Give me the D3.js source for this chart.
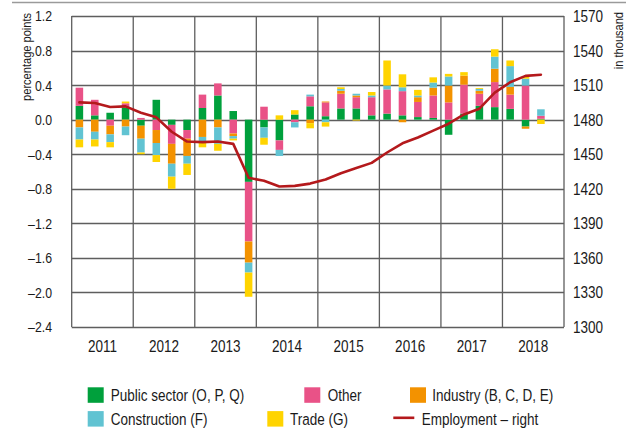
<!DOCTYPE html>
<html>
<head>
<meta charset="utf-8">
<script src="https://cdn.jsdelivr.net/npm/d3@7"></script>
<style>
  html, body { margin: 0; padding: 0; background: #fff; }
  svg { display: block; }
  text { font-family: "Liberation Sans", Arial, sans-serif; fill: #1a1a1a; }
</style>
</head>
<body>
<svg id="chart" width="638" height="432"></svg>
<script>
// ---- Data ----
const years = ["2011", "2012", "2013", "2014", "2015", "2016", "2017", "2018"];
const quarters = [
  "2011Q1","2011Q2","2011Q3","2011Q4",
  "2012Q1","2012Q2","2012Q3","2012Q4",
  "2013Q1","2013Q2","2013Q3","2013Q4",
  "2014Q1","2014Q2","2014Q3","2014Q4",
  "2015Q1","2015Q2","2015Q3","2015Q4",
  "2016Q1","2016Q2","2016Q3","2016Q4",
  "2017Q1","2017Q2","2017Q3","2017Q4",
  "2018Q1","2018Q2","2018Q3"
];
const publicSector = [0.16, 0.05, 0.08, 0.14, -0.07, 0.23, -0.06, -0.12, 0.135, 0.28, 0.10, -0.72,
  -0.09, -0.24, 0.06, 0.155, 0.04, 0.13, 0.13, 0.05, 0.07, 0.05, 0.03, 0.02,
  -0.175, 0.07, 0.16, 0.145, 0.125, -0.08, 0.01];
const other = [0.21, 0.18, -0.07, 0.05, 0.02, -0.12, -0.22, -0.10, 0.155, 0.14, -0.16, -0.69,
  0.15, -0.11, -0.03, 0.115, 0.16, 0.17, 0.13, 0.21, 0.28, 0.28, 0.175, 0.26,
  0.20, 0.335, 0.14, 0.29, 0.165, 0.395, 0.035];
const industry = [-0.09, -0.14, -0.10, -0.08, -0.15, -0.15, -0.23, -0.20, -0.20, -0.09, -0.03, -0.245,
  0, 0, 0, -0.04, 0.01, 0.035, 0.02, 0, 0, -0.03, 0.055, 0.09,
  0.195, 0.105, 0.035, 0.155, 0.09, -0.025, 0];
const construction = [-0.14, -0.09, -0.09, -0.10, -0.16, -0.14, -0.15, -0.09, -0.07, -0.19, -0.03, -0.115,
  -0.12, -0.07, -0.06, 0.02, -0.03, 0.02, 0.02, 0.02, 0.045, 0.045, 0.02, 0.06,
  0.105, 0, 0.02, 0.14, 0.24, 0.08, 0.075];
const trade = [-0.09, -0.08, -0.06, 0.02, -0.02, -0.08, -0.14, -0.13, -0.05, -0.08, -0.02, -0.28,
  -0.08, 0.05, 0.05, -0.06, -0.05, 0.02, -0.01, 0.04, 0.29, 0.15, 0.065, 0.06,
  0.03, 0.04, 0.01, 0.085, 0.065, 0.025, -0.05];
const employment = [1495, 1494.5, 1491, 1491.5, 1486, 1482, 1469.5, 1461, 1460.5, 1461, 1459, 1429.5,
  1427, 1422, 1422.5, 1424.5, 1428, 1433.5, 1438, 1442.5, 1451.5, 1459.5, 1464.5, 1470.5,
  1476.5, 1484.5, 1489.5, 1503.5, 1512.5, 1518, 1519];
const leftTicks = [1.2, 0.8, 0.4, 0.0, -0.4, -0.8, -1.2, -1.6, -2.0, -2.4];
const rightTicks = [1570, 1540, 1510, 1480, 1450, 1420, 1390, 1360, 1330, 1300];

const seriesDefs = [
  { key: "public", name: "Public sector (O, P, Q)", color: "#00a03c", values: publicSector },
  { key: "other", name: "Other", color: "#e95287", values: other },
  { key: "industry", name: "Industry (B, C, D, E)", color: "#f39200", values: industry },
  { key: "construction", name: "Construction (F)", color: "#61c3d2", values: construction },
  { key: "trade", name: "Trade (G)", color: "#ffd400", values: trade }
];
const lineColor = "#b4191c";

// ---- Layout ----
const svg = d3.select("#chart");
const L = 71.7, R = 564, T = 16, B = 327;
const NARROW = 0.82; // condensed look

const slots = years.flatMap(y => ["Q1","Q2","Q3","Q4"].map(q => y + q));
const x = d3.scaleBand().domain(slots).range([L, R]).paddingInner(0.51).paddingOuter(0.255);
const xYear = d3.scaleBand().domain(years).range([L, R]);
const y = d3.scaleLinear().domain([-2.4, 1.2]).range([B, T]);
const y2 = d3.scaleLinear().domain([1300, 1570]).range([B, T]);

function label(g, px, py, str, size, anchor, rotate) {
  return g.append("text")
    .attr("transform", `translate(${px},${py})` + (rotate ? ` rotate(${rotate})` : "") + ` scale(${NARROW},1)`)
    .attr("text-anchor", anchor || "start")
    .attr("dy", rotate ? null : "0.36em")
    .attr("font-size", size)
    .text(str);
}

// top rule
svg.append("line").attr("x1", 12).attr("x2", 626).attr("y1", 2.5).attr("y2", 2.5)
  .attr("stroke", "#9a9a9a").attr("stroke-width", 1.5);

// grid
const gridColor = "#5e5e5e";
svg.append("g").selectAll("line").data(leftTicks).join("line")
  .attr("x1", L).attr("x2", R)
  .attr("y1", d => Math.round(y(d)) + 0.5).attr("y2", d => Math.round(y(d)) + 0.5)
  .attr("stroke", gridColor).attr("stroke-width", 1.3);
svg.append("g").selectAll("line").data(years.concat(["end"])).join("line")
  .attr("x1", (d, i) => i < years.length ? xYear(d) : R)
  .attr("x2", (d, i) => i < years.length ? xYear(d) : R)
  .attr("y1", T).attr("y2", B)
  .attr("stroke", gridColor).attr("stroke-width", 1.3);

// stacked bars
const table = quarters.map((q, i) => {
  const row = { q };
  seriesDefs.forEach(s => row[s.key] = s.values[i]);
  return row;
});
const stack = d3.stack().keys(seriesDefs.map(s => s.key)).offset(d3.stackOffsetDiverging);
const stacked = stack(table);
svg.append("g").selectAll("g").data(stacked).join("g")
  .attr("fill", (d, i) => seriesDefs[i].color)
  .selectAll("rect").data(d => d).join("rect")
  .attr("x", d => x(d.data.q))
  .attr("width", x.bandwidth())
  .attr("y", d => y(Math.max(d[0], d[1])))
  .attr("height", d => Math.abs(y(d[0]) - y(d[1])));

// employment line
const line = d3.line()
  .x((d, i) => x(quarters[i]) + x.bandwidth() / 2)
  .y(d => y2(d))
  .curve(d3.curveLinear);
svg.append("path").datum(employment)
  .attr("d", line).attr("fill", "none")
  .attr("stroke", lineColor).attr("stroke-width", 2.6)
  .attr("stroke-linejoin", "round").attr("stroke-linecap", "round");

// axes labels
const fmtL = d => (d < 0 ? "\u2013" : "") + Math.abs(d).toFixed(1);
const gl = svg.append("g");
leftTicks.forEach(d => label(gl, 52, y(d), fmtL(d), 15, "end"));
const gr = svg.append("g");
rightTicks.forEach(d => label(gr, 573, y2(d), String(d), 16.5, "start"));
const gy = svg.append("g");
years.forEach(d => label(gy, xYear(d) + xYear.bandwidth() / 2, 346, d, 16.5, "middle"));

label(svg, 30.5, 13, "percentage points", 13.5, "end", -90);
label(svg, 623, 12, "in thousand", 13.5, "end", -90);

// legend
const legendItems = [
  { s: seriesDefs[0], sx: 87.7, tx: 110.7, row: 0 },
  { s: seriesDefs[1], sx: 304.3, tx: 327.7, row: 0 },
  { s: seriesDefs[2], sx: 410, tx: 432.3, row: 0 },
  { s: seriesDefs[3], sx: 87.7, tx: 110.7, row: 1 },
  { s: seriesDefs[4], sx: 267.3, tx: 290, row: 1 }
];
const rowY = [395, 418.8];
const lg = svg.append("g");
legendItems.forEach(it => {
  lg.append("rect").attr("x", it.sx).attr("y", rowY[it.row] - 7.7).attr("width", 16).attr("height", 15.5)
    .attr("fill", it.s.color);
  label(lg, it.tx, rowY[it.row], it.s.name, 16.5, "start");
});
lg.append("line").attr("x1", 393.3).attr("x2", 414.3).attr("y1", rowY[1] - 1).attr("y2", rowY[1] - 1)
  .attr("stroke", lineColor).attr("stroke-width", 2.6);
label(lg, 421.7, rowY[1], "Employment \u2013 right", 16.5, "start");
</script>
</body>
</html>
